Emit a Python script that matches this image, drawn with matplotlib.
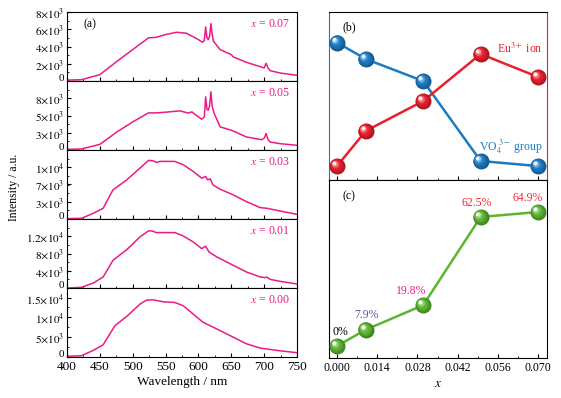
import numpy as np
import matplotlib
matplotlib.use("Agg")
import matplotlib.pyplot as plt
from matplotlib.colors import to_rgb
from matplotlib.transforms import offset_copy
from matplotlib.ticker import AutoMinorLocator, MultipleLocator

plt.rcParams['font.family'] = ['Liberation Serif', 'DejaVu Serif']
plt.rcParams['mathtext.fontset'] = 'stix'

# ---- data ----
wl_007 = [400, 422, 450, 476, 500, 524, 536, 550, 567, 582, 600, 606, 609, 611, 613, 615, 617, 619, 621, 623, 633, 650, 653, 673, 694, 700, 703, 706, 709, 724, 750]
int_007 = [100, 150, 735, 2280, 3640, 5000, 5070, 5380, 5650, 5530, 4800, 4490, 4700, 6270, 5000, 4800, 5200, 6650, 5400, 4600, 3640, 3060, 2790, 2170, 1660, 1510, 2050, 1500, 1200, 930, 660]

wl_005 = [400, 422, 450, 476, 500, 524, 536, 550, 572, 585, 590, 595, 605, 609, 611, 613, 615, 617, 619, 621, 624, 633, 650, 656, 673, 696, 700, 703, 706, 709, 724, 750]
int_005 = [100, 150, 820, 2620, 4070, 5380, 5380, 5480, 5670, 5340, 5530, 5140, 4460, 4800, 7710, 5900, 5770, 6400, 8440, 6300, 5290, 3350, 2860, 2620, 1890, 1500, 1700, 2380, 1500, 1160, 920, 680]

wl_003 = [400, 422, 440, 455, 470, 491, 511, 524, 531, 536, 542, 564, 577, 592, 605, 611, 614, 618, 622, 633, 653, 673, 694, 704, 724, 750]
int_003 = [65, 130, 1100, 2070, 5630, 7570, 9830, 11320, 11260, 10930, 11130, 11130, 10480, 9190, 7890, 8220, 7570, 7760, 6600, 5760, 4660, 3360, 2200, 2070, 1550, 900]

wl_001 = [400, 422, 440, 455, 470, 491, 511, 524, 529, 536, 564, 577, 592, 605, 611, 616, 628, 653, 673, 694, 702, 704, 709, 724, 750]
int_001 = [0, 150, 1160, 2550, 6420, 8900, 11840, 13240, 13240, 12850, 12850, 12070, 10680, 9130, 9680, 8360, 7200, 5260, 3720, 2550, 2400, 2550, 2010, 1550, 930]

wl_000 = [400, 422, 440, 455, 473, 491, 511, 521, 531, 547, 564, 577, 592, 607, 628, 653, 673, 694, 719, 750]
int_000 = [170, 330, 1670, 3080, 7910, 10250, 13330, 14330, 14410, 13910, 13750, 12910, 10830, 8750, 7080, 5000, 3330, 2250, 1670, 1080]

spectra = [(wl_007, int_007, '0.07'), (wl_005, int_005, '0.05'), (wl_003, int_003, '0.03'),
           (wl_001, int_001, '0.01'), (wl_000, int_000, '0.00')]

ylims = [8000, 10000, 13333, 16000, 17400]
yticks = [[0, 2000, 4000, 6000, 8000], [0, 2500, 5000, 7500], [0, 3333, 6667, 10000],
          [0, 4000, 8000, 12000], [0, 5000, 10000, 15000]]
yticklabels = [['0', r'$2{\times}10^3$', r'$4{\times}10^3$', r'$6{\times}10^3$', r'$8{\times}10^3$'],
               ['0', r'$3{\times}10^3$', r'$5{\times}10^3$', r'$8{\times}10^3$'],
               ['0', r'$3{\times}10^3$', r'$7{\times}10^3$', r'$1{\times}10^4$'],
               ['0', r'$4{\times}10^3$', r'$8{\times}10^3$', r'$1.2{\times}10^4$'],
               ['0', r'$5{\times}10^3$', r'$1{\times}10^4$', r'$1.5{\times}10^4$']]

x_conc = [0.0, 0.01, 0.03, 0.05, 0.07]
vo4_rel = [0.818, 0.720, 0.589, 0.113, 0.083]
eu_rel = [0.083, 0.292, 0.470, 0.750, 0.613]
transfer_eff = [0.0, 7.9, 19.8, 62.5, 64.9]
eff_labels = ['0%', '7.9%', '19.8%', '62.5%', '64.9%']
eff_colors = ['black', '#6a4bb0', '#e6208a', '#ee2a3a', '#ee2a3a']

pink = '#ec1a86'
blue = '#1a7cc4'
red = '#e8202c'
green = '#5cb531'

fig = plt.figure(figsize=(5.61, 3.98), dpi=100)


def sphere(ax, xs, ys, color, ms=11.5):
    # layered circles to fake a shaded ball
    base = np.array(to_rgb(color))
    white = np.ones(3)
    n = 9
    for i in range(n):
        f = i / (n - 1)
        shade = base * (0.72 + 0.28 * min(f / 0.45, 1))
        w = max(0.0, (f - 0.55) / 0.45) ** 1.3 * 0.95
        c = shade * (1 - w) + white * w
        size = ms * (1 - 0.8 * f)
        shift = ms * 0.2 * f
        tr = offset_copy(ax.transData, fig=fig, x=-shift, y=shift, units='points')
        ax.plot(xs, ys, 'o', ms=size, color=np.clip(c, 0, 1), mec='none',
                transform=tr, zorder=3 + i, clip_on=False)


# ---- panel (a): spectra ----
left, width = 67 / 561, 230 / 561
top = 1 - 12 / 398
h = 69 / 398
for i, (wl, inten, lab) in enumerate(spectra):
    ax = fig.add_axes([left, top - (i + 1) * h, width, h])
    ax.plot(wl, inten, color=pink, lw=1.1)
    ax.set_xlim(400, 750)
    ax.set_ylim(0, ylims[i])
    ax.set_yticks(yticks[i])
    ax.set_yticklabels(yticklabels[i], fontsize=8)
    # sit the "0" on the axis line so it clears the panel below
    ax.yaxis.get_major_ticks()[0].label1.set_va('baseline')
    ax.yaxis.set_minor_locator(AutoMinorLocator(2))
    ax.xaxis.set_major_locator(MultipleLocator(50))
    ax.xaxis.set_minor_locator(MultipleLocator(25))
    ax.tick_params(direction='in', which='both', top=False, right=False, pad=2)
    ax.tick_params(which='major', length=3)
    ax.tick_params(which='minor', length=1.5)
    if i < 4:
        ax.set_xticklabels([])
    else:
        ax.tick_params(axis='x', labelsize=9.5, pad=3)
        ax.set_xlabel('Wavelength / nm', fontsize=9.5, labelpad=2)
    ax.text(0.97, 0.82, r'$x$ = ' + lab, transform=ax.transAxes, ha='right', va='center',
            color=pink, fontsize=8.5)
    if i == 0:
        ax.text(0.07, 0.82, '(a)', transform=ax.transAxes, ha='left', va='center', fontsize=8.5)

fig.text(0.025, 0.53, 'Intensity / a.u.', rotation=90, ha='center', va='center', fontsize=8.5)

# ---- panel (b) ----
rl, rw = 329 / 561, 218 / 561
axb = fig.add_axes([rl, 1 - 180 / 398, rw, 168 / 398])
axb.plot(x_conc, vo4_rel, color=blue, lw=1.8, zorder=2)
axb.plot(x_conc, eu_rel, color=red, lw=1.8, zorder=2)
sphere(axb, x_conc, vo4_rel, blue)
sphere(axb, x_conc, eu_rel, red)
axb.set_xlim(-0.0028, 0.0731)
axb.set_ylim(0, 1)
axb.set_yticks([])
axb.xaxis.set_major_locator(MultipleLocator(0.014))
axb.xaxis.set_minor_locator(MultipleLocator(0.007))
axb.tick_params(direction='in', which='both', labelbottom=False)
axb.tick_params(which='major', length=3)
axb.tick_params(which='minor', length=1.5)
axb.spines['left'].set_color(blue)
axb.spines['right'].set_color(red)
axb.text(0.06, 0.91, '(b)', transform=axb.transAxes, fontsize=8.5, va='center')
axb.text(0.0715, 0.78, r'Eu$^{3+}$ ion', color=red, ha='right', va='center', fontsize=8.5)
axb.text(0.0715, 0.195, r'VO$_4^{\ 3-}$ group', color=blue, ha='right', va='center', fontsize=8.5)

# ---- panel (c) ----
axc = fig.add_axes([rl, 1 - 358 / 398, rw, 178 / 398])
axc.plot(x_conc, transfer_eff, color=green, lw=1.8, zorder=2)
sphere(axc, x_conc, transfer_eff, green)
axc.set_xlim(-0.0028, 0.0731)
axc.set_ylim(-5.8, 80.4)
axc.set_yticks([])
axc.xaxis.set_minor_locator(MultipleLocator(0.007))
axc.set_xticks([0, 0.014, 0.028, 0.042, 0.056, 0.070])
axc.set_xticklabels(['0.000', '0.014', '0.028', '0.042', '0.056', '0.070'], fontsize=8.5)
axc.tick_params(direction='in', which='both', pad=3)
axc.tick_params(which='major', length=3)
axc.tick_params(which='minor', length=1.5)
axc.set_xlabel(r'$x$', fontsize=9.5, labelpad=3)
axc.text(0.06, 0.91, '(c)', transform=axc.transAxes, fontsize=8.5, va='center')
offs = [0.001, 0.0003, -0.0042, -0.0014, -0.0035]
for xv, yv, lab, col, dx in zip(x_conc, transfer_eff, eff_labels, eff_colors, offs):
    axc.text(xv + dx, yv + 7.0, lab, color=col, ha='center', va='center', fontsize=8.5)

fig.savefig('out.png', dpi=100)
